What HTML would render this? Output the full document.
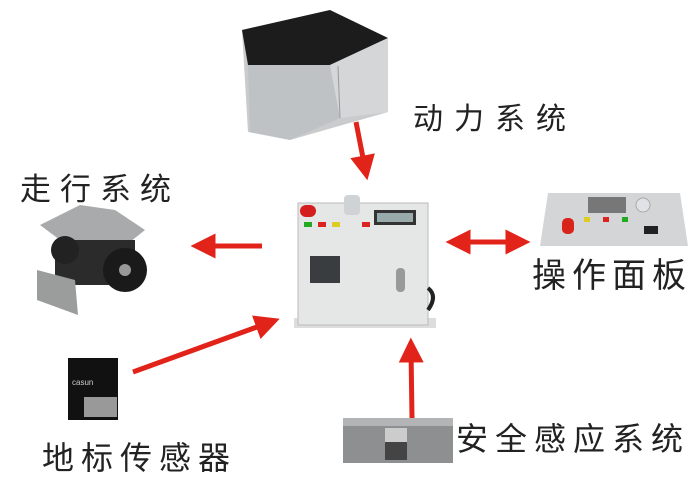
<!DOCTYPE html>
<html><head><meta charset="utf-8"><style>
html,body{margin:0;padding:0;background:#fff;}
svg{display:block;}
text{font-family:"Liberation Sans","Noto Sans CJK SC",sans-serif;fill:#222;}
</style></head><body>
<svg width="695" height="477" viewBox="0 0 695 477" xmlns="http://www.w3.org/2000/svg">
<defs>
<marker id="ah" markerWidth="5" markerHeight="5" refX="2.5" refY="2.5" orient="auto" markerUnits="strokeWidth">
<path d="M0,0 L5,2.5 L0,5 Z" fill="#e2231a"/></marker>
<marker id="ahs" markerWidth="5" markerHeight="5" refX="2.5" refY="2.5" orient="auto-start-reverse" markerUnits="strokeWidth">
<path d="M0,0 L5,2.5 L0,5 Z" fill="#e2231a"/></marker>
</defs>
<!-- battery -->
<polygon points="242,30 330,10 388,38 388,112 290,140 248,132" fill="#c9cbcd"/>
<polygon points="242,30 330,10 388,38 330,65 248,65" fill="#1c1c1c"/>
<polygon points="248,65 330,65 340,118 290,140 250,132" fill="#bfc2c5"/>
<polygon points="330,65 388,38 388,112 340,118" fill="#d4d6d8"/>
<line x1="338" y1="66" x2="340" y2="118" stroke="#999" stroke-width="1"/>
<!-- controller -->
<rect x="294" y="318" width="142" height="10" fill="#ddd"/>
<rect x="298" y="203" width="130" height="122" fill="#e5e6e6" stroke="#bbb"/>
<rect x="300" y="205" width="16" height="12" rx="6" fill="#d41d1d"/>
<rect x="344" y="195" width="16" height="20" rx="4" fill="#cfd3d6"/>
<rect x="374" y="210" width="42" height="15" fill="#333"/>
<rect x="377" y="213" width="36" height="9" fill="#9aa"/>
<rect x="304" y="222" width="8" height="5" fill="#2a2"/>
<rect x="318" y="222" width="8" height="5" fill="#d22"/>
<rect x="332" y="222" width="8" height="5" fill="#dc2"/>
<rect x="362" y="222" width="8" height="5" fill="#d22"/>
<rect x="310" y="256" width="30" height="27" fill="#3a3d40"/>
<rect x="396" y="268" width="9" height="24" rx="4" fill="#999"/>
<path d="M428,288 q10,8 0,22" stroke="#222" stroke-width="4" fill="none"/>
<!-- panel -->
<polygon points="548,193 680,193 688,246 540,246" fill="#d3d5d6"/>
<rect x="588" y="197" width="38" height="16" fill="#777"/>
<rect x="562" y="218" width="12" height="16" rx="5" fill="#d8241a"/>
<rect x="584" y="217" width="6" height="5" fill="#dc2"/>
<rect x="603" y="217" width="6" height="5" fill="#d22"/>
<rect x="622" y="217" width="6" height="5" fill="#2a2"/>
<circle cx="643" cy="205" r="7" fill="#e0e3e6" stroke="#aaa"/>
<rect x="644" y="226" width="14" height="8" fill="#222"/>
<!-- wheel unit -->
<polygon points="40,225 80,205 115,210 145,230 120,250 60,240" fill="#a9aaab"/>
<rect x="55" y="240" width="80" height="45" fill="#2b2b2b"/>
<circle cx="125" cy="270" r="22" fill="#1a1a1a"/>
<circle cx="125" cy="270" r="6" fill="#999"/>
<circle cx="65" cy="250" r="14" fill="#222"/>
<polygon points="37,270 75,280 78,315 37,300" fill="#9b9c9c"/>
<!-- ground sensor -->
<rect x="68" y="358" width="50" height="62" fill="#111"/>
<rect x="84" y="397" width="33" height="20" fill="#999"/>
<text x="72" y="385" font-size="8" style="fill:#ccc">casun</text>
<!-- safety sensor -->
<rect x="343" y="418" width="110" height="45" fill="#8d8f90"/>
<rect x="343" y="418" width="110" height="8" fill="#b2b4b5"/>
<rect x="385" y="428" width="22" height="32" fill="#444"/>
<rect x="385" y="428" width="22" height="14" fill="#ccc"/>
<!-- arrows -->
<g stroke="#e2231a" stroke-width="5" fill="none">
<line x1="356" y1="122" x2="365" y2="168" marker-end="url(#ah)"/>
<line x1="262" y1="246" x2="203" y2="246" marker-end="url(#ah)"/>
<line x1="458" y1="242" x2="518" y2="242" marker-start="url(#ahs)" marker-end="url(#ah)"/>
<line x1="133" y1="372" x2="268" y2="323" marker-end="url(#ah)"/>
<line x1="412" y1="418" x2="411" y2="350" marker-end="url(#ah)"/>
</g>
<!-- labels -->
<text x="413" y="129" font-size="30" letter-spacing="11">动力系统</text>
<text x="20" y="200" font-size="31" letter-spacing="9">走行系统</text>
<text x="532" y="287" font-size="34" letter-spacing="6">操作面板</text>
<text x="42" y="469" font-size="32" letter-spacing="7">地标传感器</text>
<text x="456" y="450" font-size="32" letter-spacing="7">安全感应系统</text>
</svg>
</body></html>
